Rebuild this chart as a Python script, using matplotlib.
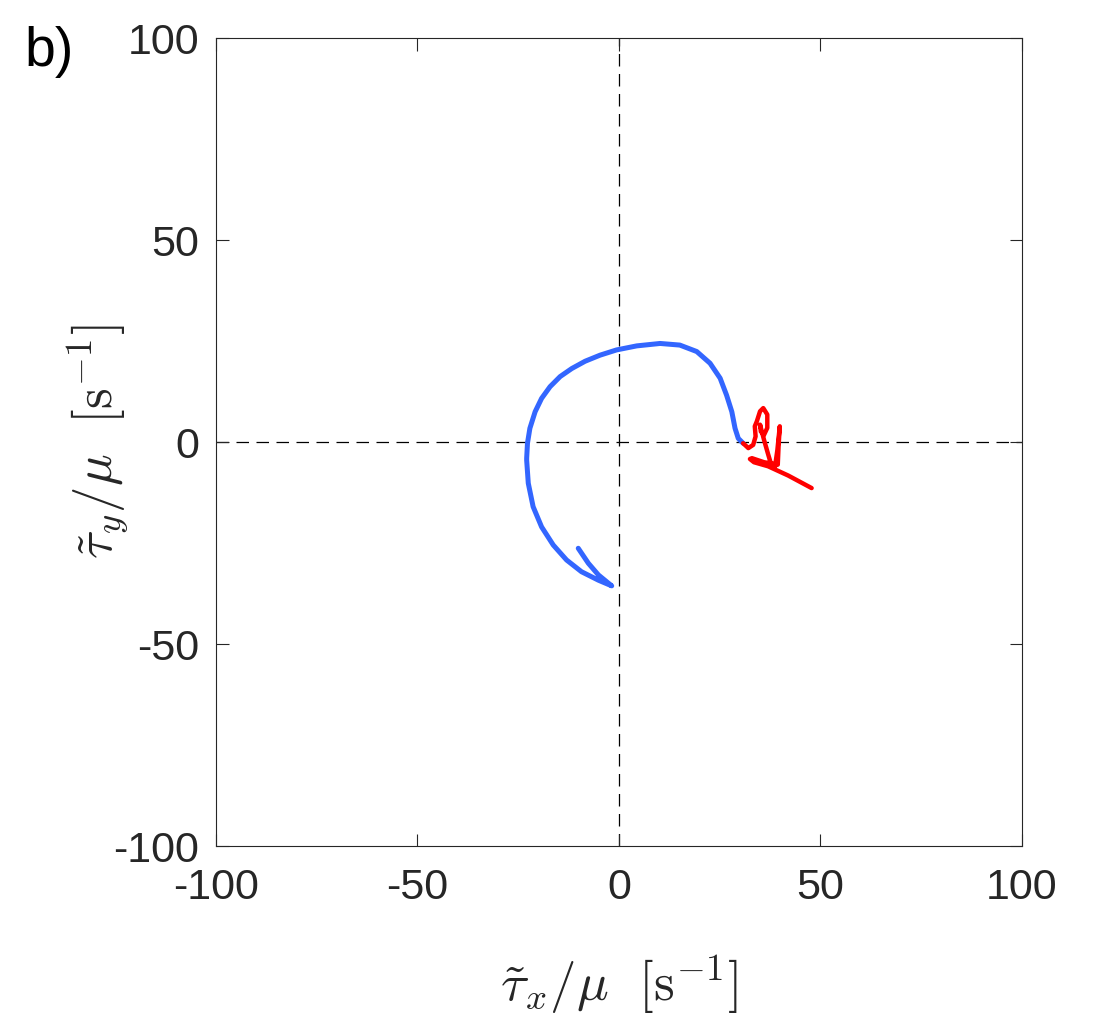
import numpy as np
import matplotlib
matplotlib.use('Agg')
import matplotlib.pyplot as plt

plt.rcParams['font.family'] = ['Liberation Sans', 'DejaVu Sans']
plt.rcParams['mathtext.fontset'] = 'cm'

# blue trajectory (tau_x/mu, tau_y/mu) in s^-1
blue_x = [30.8, 29.6, 28.8, 28.0, 26.7, 25.1, 22.6, 19.3, 15.1, 10.2, 4.4, -0.6,
          -4.7, -8.4, -11.7, -14.6, -17.1, -19.2, -20.8, -22.1, -22.7, -22.9,
          -22.9, -22.5, -21.3, -19.2, -16.3, -13.0, -9.3, -5.1, -1.8,
          -5.1, -7.6, -10.1]
blue_y = [-0.3, 0.9, 3.4, 7.5, 11.6, 15.8, 19.5, 22.4, 24.0, 24.4, 23.8, 22.8,
          21.5, 20.0, 18.2, 16.2, 13.7, 10.8, 7.5, 3.4, -0.3, -4.0,
          -4.5, -10.2, -16.0, -21.0, -25.5, -29.2, -32.1, -34.2, -35.6,
          -32.9, -30.0, -26.3]

# red trajectory
red_x = [30.8, 32.1, 33.3, 33.9, 33.7, 34.2, 35.0, 35.8, 36.8, 36.8, 36.0, 35.2,
         35.0, 36.0, 37.0, 37.9, 38.7, 39.3, 39.9, 39.6, 39.4, 36.0, 33.0, 32.5,
         33.5, 37.0, 42.0, 47.8]
red_y = [-0.3, -1.5, -0.7, 1.4, 3.9, 5.1, 7.6, 8.4, 6.8, 3.5, 1.8, 2.6,
         4.3, 0.5, -3.0, -6.0, -6.2, -2.0, 3.9, -1.0, -5.6, -5.0, -4.0, -4.2,
         -5.0, -6.0, -8.3, -11.4]

ticks = [-100, -50, 0, 50, 100]


def main():
    fig = plt.figure(figsize=(10.96, 10.34), dpi=100)
    ax = fig.add_axes([0.197, 0.1818, 0.7355, 0.7814])

    ax.axhline(0, color='k', lw=0.9, dashes=(10, 6), zorder=1)
    ax.axvline(0, color='k', lw=0.9, dashes=(10, 6), zorder=1)

    ax.plot(blue_x, blue_y, color='#3366ff', lw=3.6, solid_capstyle='round',
            solid_joinstyle='round', zorder=2)
    ax.plot(red_x, red_y, color='#ff0000', lw=3.2, solid_capstyle='round',
            solid_joinstyle='round', zorder=3)

    ax.set_xlim(-100, 100)
    ax.set_ylim(-100, 100)
    ax.set_xticks(ticks)
    ax.set_yticks(ticks)
    ax.set_xticklabels([str(t) for t in ticks])
    ax.set_yticklabels([str(t) for t in ticks])
    ax.tick_params(direction='in', length=9, width=0.8, labelsize=31,
                   top=True, right=True, colors='#262626')
    ax.tick_params(axis='x', pad=16)
    ax.tick_params(axis='y', pad=12)
    for s in ax.spines.values():
        s.set_color('#262626')
        s.set_linewidth(0.8)

    ax.set_xlabel(r'$\tilde{\tau}_x/\mu\ \ [\mathrm{s}^{-1}]$', fontsize=38,
                  color='#262626', va='center')
    ax.set_ylabel(r'$\tilde{\tau}_y/\mu\ \ [\mathrm{s}^{-1}]$', fontsize=38,
                  color='#262626', va='center')
    ax.xaxis.set_label_coords(0.5, -0.172)
    ax.yaxis.set_label_coords(-0.146, 0.5)

    fig.text(0.022, 0.975, 'b)', fontsize=40, color='k', va='top')

    fig.savefig('out.png', dpi=100)


if __name__ == '__main__':
    main()
